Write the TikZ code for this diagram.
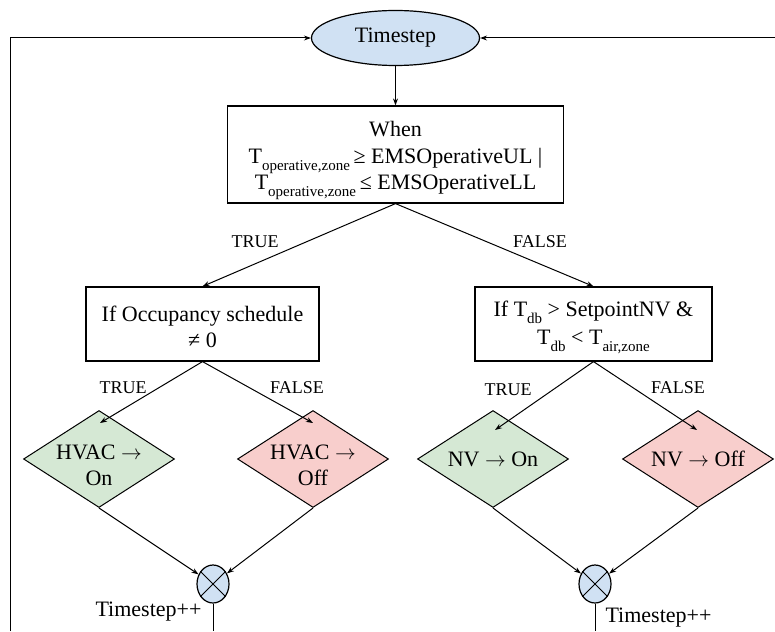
\documentclass[tikz,border=0pt]{standalone}
\usepackage{fontspec}
\setmainfont{Liberation Serif}
\usetikzlibrary{shapes.geometric,arrows.meta}

\definecolor{tsblue}{HTML}{D0E1F3}
\definecolor{ongreen}{HTML}{D5E8D4}
\definecolor{offred}{HTML}{F8CECC}

% lowered, smaller index text after a symbol
\newcommand{\lowidx}[1]{\raisebox{-0.32em}{\fontsize{15}{15}\selectfont #1}}
% long arrow used in the action labels
\newcommand{\toarrow}{$\rightarrow$}
% strut that pushes a first line down
\newcommand{\topstrut}[1]{\rule{0pt}{#1}}

\begin{document}
\begin{tikzpicture}[x=1pt,y=-1pt,
  every node/.style={font=\fontsize{22}{26}\selectfont},
  flow/.style={line width=1pt, -{Stealth[length=7pt,width=5pt]}},
  plain/.style={line width=1pt},
  startnode/.style={draw, ellipse, fill=tsblue, line width=1.2pt,
    minimum width=168pt, minimum height=55pt, inner sep=0pt},
  decision/.style={draw, rectangle, line width=1.2pt, align=center, inner sep=2pt},
  action/.style={draw, diamond, line width=1pt, minimum width=151pt,
    minimum height=97pt, inner sep=-14pt, align=center},
  merge/.style={draw, ellipse, fill=tsblue, line width=1.2pt,
    minimum width=32pt, minimum height=38pt, inner sep=0pt},
  branch/.style={font=\fontsize{18}{20}\selectfont}
]
\useasboundingbox (0,0) rectangle (775,631);

% start of each time step
\node[startnode] (ts) at (395.5,38) {Timestep};

% checks
\node[decision, minimum width=336pt, minimum height=97pt] (when) at (395.5,154.5)
  {\topstrut{1.25em}When\\[1pt]T\lowidx{operative,zone}\,≥ EMSOperativeUL |\\T\lowidx{operative,zone}\,≤ EMSOperativeLL};
\node[decision, minimum width=233pt, minimum height=74pt] (occ) at (202.5,324)
  {\topstrut{0.95em}If Occupancy schedule\\≠ 0};
\node[decision, minimum width=237pt, minimum height=74pt] (nvchk) at (593.5,324)
  {\topstrut{1.05em}If T\lowidx{db} > SetpointNV \&\\[2pt]T\lowidx{db} < T\lowidx{air,zone}};

% actions
\node[action, fill=ongreen] (hvacon)  at (99,459)  {\topstrut{1.2em}HVAC \toarrow\\On};
\node[action, fill=offred]  (hvacoff) at (313,459) {\topstrut{1.2em}HVAC \toarrow\\Off};
\node[action, fill=ongreen] (nvon)    at (493,459) {NV \toarrow{} On};
\node[action, fill=offred]  (nvoff)   at (698,459) {NV \toarrow{} Off};

% merge points
\node[merge] (m1) at (213,584) {};
\node[merge] (m2) at (595,584) {};
\draw[plain] (m1.45) -- (m1.225) (m1.135) -- (m1.315);
\draw[plain] (m2.45) -- (m2.225) (m2.135) -- (m2.315);

% branch labels
\node[branch] (t1) at (255,242) {TRUE};
\node[branch] (f1) at (540,242) {FALSE};
\node[branch] (t2) at (123,388) {TRUE};
\node[branch] (f2) at (297,388) {FALSE};
\node[branch] (t3) at (508,390) {TRUE};
\node[branch] (f3) at (678,388) {FALSE};
\node[anchor=east] (inc1) at (205,612) {Timestep++};
\node[anchor=west] (inc2) at (602,618) {Timestep++};

% arrow ends inside the action shapes and loop ends
\coordinate (hvon-in)  at (100,423);
\coordinate (hvoff-in) at (313,423);
\coordinate (nvon-in)  at (495,430);
\coordinate (nvoff-in) at (697,430);
\coordinate (m1out) at (213,631);
\coordinate (m2out) at (595,631);
\coordinate (loopL) at (10,631);
\coordinate (loopR) at (775,38);

% connectors
\draw[flow] (ts) -- (when);
\draw[flow] (when.south) -- (occ.north);
\draw[flow] (when.south) -- (nvchk.north);
\draw[flow] (occ.south) -- (hvon-in);
\draw[flow] (occ.south) -- (hvoff-in);
\draw[flow] (nvchk.south) -- (nvon-in);
\draw[flow] (nvchk.south) -- (nvoff-in);
\draw[flow] (hvacon.south) -- (m1);
\draw[flow] (hvacoff.south) -- (m1);
\draw[flow] (nvon.south) -- (m2);
\draw[flow] (nvoff.south) -- (m2);
\draw[plain] (m1) -- (m1out);
\draw[plain] (m2) -- (m2out);
\draw[flow] (loopL) |- (ts.west);
\draw[flow] (loopR) -- (ts.east);
\end{tikzpicture}
\end{document}
